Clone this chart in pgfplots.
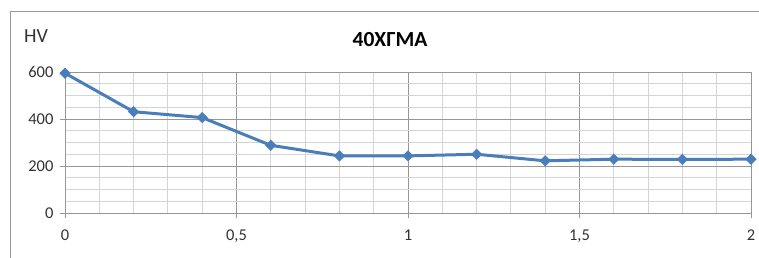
\documentclass[border=0pt]{standalone}
\usepackage{pgfplots}
\pgfplotsset{compat=1.18}
\usepackage{fontspec}
\setmainfont{Carlito}
\definecolor{excelblue}{HTML}{4A7EBB}
\definecolor{majgrid}{HTML}{969696}
\definecolor{mingrid}{HTML}{D4D4D4}
\begin{document}
\begin{tikzpicture}[x=1pt,y=1pt]
\path[use as bounding box] (0,0) rectangle (759,257);
\draw[color=black!40, line width=1pt] (10,-5) -- (10,245) -- (765,245);
\node[font=\fontsize{20}{22}\selectfont, text=black!80] at (36,221) {HV};
\node[font=\fontsize{21.5}{24}\selectfont\bfseries] at (390,217) {40ХГМА};
\begin{axis}[
  at={(65pt,44pt)}, anchor=south west,
  scale only axis, width=686pt, height=141pt,
  xmin=0, xmax=2, ymin=0, ymax=600,
  xtick={0,0.5,1,1.5,2}, xticklabels={0,{0,5},1,{1,5},2},
  ytick={0,200,400,600},
  minor x tick num=4, minor y tick num=3,
  grid=both,
  major grid style={majgrid, line width=0.9pt},
  minor grid style={mingrid, line width=0.9pt},
  axis line style={majgrid, line width=0.9pt},
  tick align=outside, major tick length=5pt, minor tick length=0pt,
  tick style={majgrid, line width=0.9pt},
  xtick pos=bottom, ytick pos=left,
  /pgf/number format/assume math mode=true,
  ticklabel style={font=\fontsize{16.5}{18}\selectfont, text=black!80},
  xticklabel style={yshift=-8pt},
  yticklabel style={xshift=-3pt},
  clip=false,
]
\addplot[color=excelblue, line width=3pt, mark=square*, mark size=3.7pt,
  mark options={rotate=45, solid, fill=excelblue, draw=excelblue, line width=0.5pt}]
  coordinates {
  (0,595) (0.2,431) (0.4,406) (0.6,288) (0.8,243) (1.0,243)
  (1.2,250) (1.4,222) (1.6,229) (1.8,228) (2.0,229)
  };
\end{axis}
\end{tikzpicture}
\end{document}
